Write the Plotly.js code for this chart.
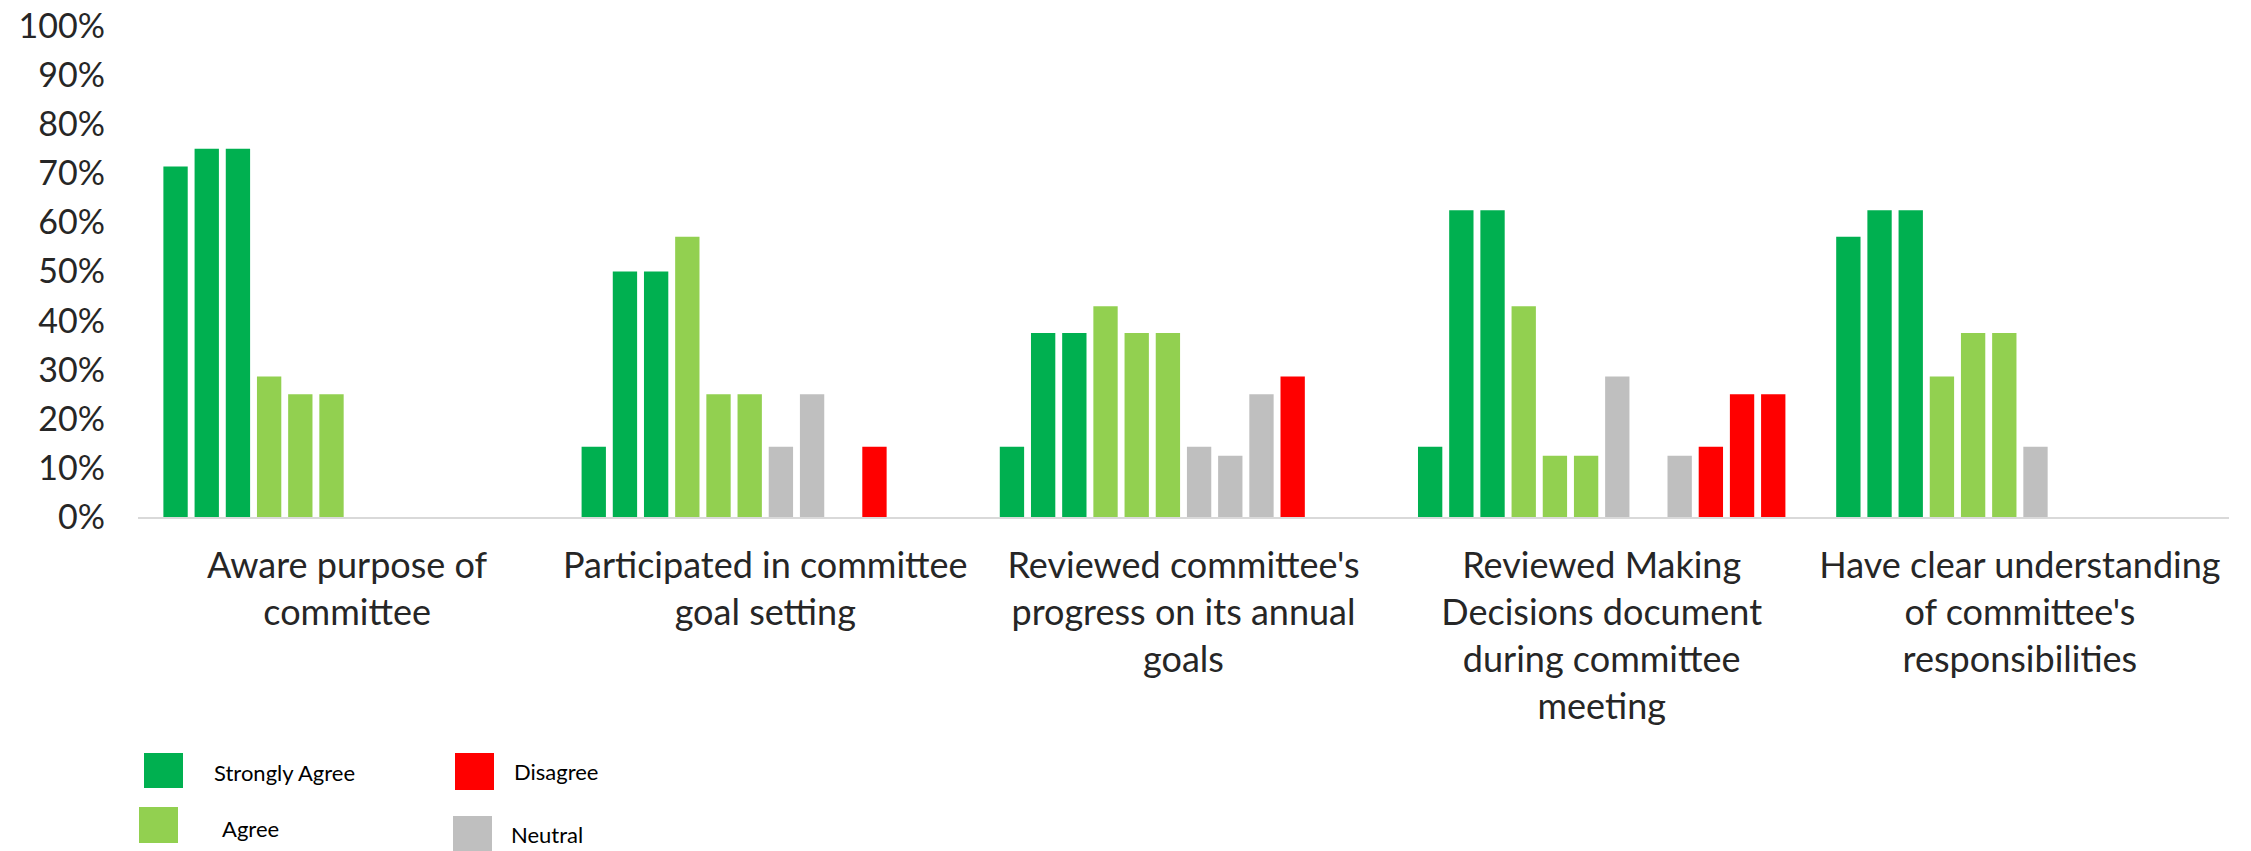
<!DOCTYPE html>
<html>
<head>
<meta charset="utf-8">
<script src="https://cdn.plot.ly/plotly-3.0.1.min.js"></script>
<style>html,body{margin:0;padding:0;background:#fff;}#chart{width:2251px;height:851px;}</style>
</head>
<body>
<div id="chart"></div>
<script>
// ---- data ----
const categories = [
  "Aware purpose of<br>committee",
  "Participated in committee<br>goal setting",
  "Reviewed committee's<br>progress on its annual<br>goals",
  "Reviewed Making<br>Decisions document<br>during committee<br>meeting",
  "Have clear understanding<br>of committee's<br>responsibilities"
];
const stronglyAgree1 = [0.714, 0.143, 0.143, 0.143, 0.571];
const stronglyAgree2 = [0.75, 0.50, 0.375, 0.625, 0.625];
const stronglyAgree3 = [0.75, 0.50, 0.375, 0.625, 0.625];
const agree1 = [0.286, 0.571, 0.429, 0.429, 0.286];
const agree2 = [0.25, 0.25, 0.375, 0.125, 0.375];
const agree3 = [0.25, 0.25, 0.375, 0.125, 0.375];
const neutral1 = [null, 0.143, 0.143, 0.286, 0.143];
const neutral2 = [null, 0.25, 0.125, null, null];
const neutral3 = [null, null, 0.25, 0.125, null];
const disagree1 = [null, 0.143, 0.286, 0.143, null];
const disagree2 = [null, null, null, 0.25, null];
const disagree3 = [null, null, null, 0.25, null];
const yTickValues = [0, 0.1, 0.2, 0.3, 0.4, 0.5, 0.6, 0.7, 0.8, 0.9, 1.0];
const yTickLabels = ["0%", "10%", "20%", "30%", "40%", "50%", "60%", "70%", "80%", "90%", "100%"];
const legendLabels = ["Strongly Agree", "Disagree", "Agree", "Neutral"];

// ---- styles ----
const C_SA = "#00B050", C_A = "#92D050", C_N = "#BFBFBF", C_D = "#FF0000";
const FONT = "Lato, 'Open Sans', sans-serif";

const seriesDefs = [
  ["Strongly Agree 1", stronglyAgree1, C_SA],
  ["Strongly Agree 2", stronglyAgree2, C_SA],
  ["Strongly Agree 3", stronglyAgree3, C_SA],
  ["Agree 1", agree1, C_A],
  ["Agree 2", agree2, C_A],
  ["Agree 3", agree3, C_A],
  ["Neutral 1", neutral1, C_N],
  ["Neutral 2", neutral2, C_N],
  ["Neutral 3", neutral3, C_N],
  ["Disagree 1", disagree1, C_D],
  ["Disagree 2", disagree2, C_D],
  ["Disagree 3", disagree3, C_D]
];

const traces = seriesDefs.map(([name, vals, color]) => ({
  type: "bar",
  name: name,
  x: categories,
  y: vals,
  marker: {color: color, line: {width: 0}},
  showlegend: false,
  hoverinfo: "x+y+name"
}));

// legend geometry in pixels (page coords)
const W = 2251, H = 851;
const M = {l: 138, r: 22, t: 26, b: 334};
const pw = W - M.l - M.r, ph = H - M.t - M.b;
const px = x => (x - M.l) / pw;
const py = y => (H - M.b - y) / ph;

const legendItems = [
  {label: legendLabels[0], color: C_SA, box: [144, 753, 183, 788], tx: 212, ty: 773},
  {label: legendLabels[1], color: C_D, box: [455, 753, 494, 790], tx: 512, ty: 771},
  {label: legendLabels[2], color: C_A, box: [139, 807, 178, 843], tx: 220, ty: 828},
  {label: legendLabels[3], color: C_N, box: [453, 816, 492, 852], tx: 509, ty: 834}
];

const shapes = legendItems.map(it => ({
  type: "rect", xref: "paper", yref: "paper",
  x0: px(it.box[0]), x1: px(it.box[2]), y0: py(it.box[3]), y1: py(it.box[1]),
  fillcolor: it.color, line: {width: 0}
}));
const annotations = legendItems.map(it => ({
  xref: "paper", yref: "paper", x: px(it.tx), y: py(it.ty),
  xanchor: "left", yanchor: "middle", showarrow: false,
  text: it.label, font: {family: FONT, size: 22, color: "#000000"}
}));

const layout = {
  width: W, height: H,
  margin: M,
  paper_bgcolor: "#ffffff", plot_bgcolor: "#ffffff",
  barmode: "group",
  bargap: 0.105,
  bargroupgap: 0.22,
  showlegend: false,
  font: {family: FONT, color: "#262626"},
  xaxis: {
    type: "category",
    showline: true, linecolor: "#D9D9D9", linewidth: 2,
    ticks: "", showgrid: false, zeroline: false,
    tickfont: {family: FONT, size: 36, color: "#262626"},
    ticklabelstandoff: 16,
    automargin: false
  },
  yaxis: {
    range: [0, 1],
    tickmode: "array", tickvals: yTickValues, ticktext: yTickLabels,
    showline: false, showgrid: false, zeroline: false, ticks: "",
    tickfont: {family: FONT, size: 34, color: "#262626"},
    ticklabelstandoff: 32,
    automargin: false
  },
  shapes: shapes,
  annotations: annotations
};

Plotly.newPlot("chart", traces, layout, {displayModeBar: false, staticPlot: true});
</script>
</body>
</html>
